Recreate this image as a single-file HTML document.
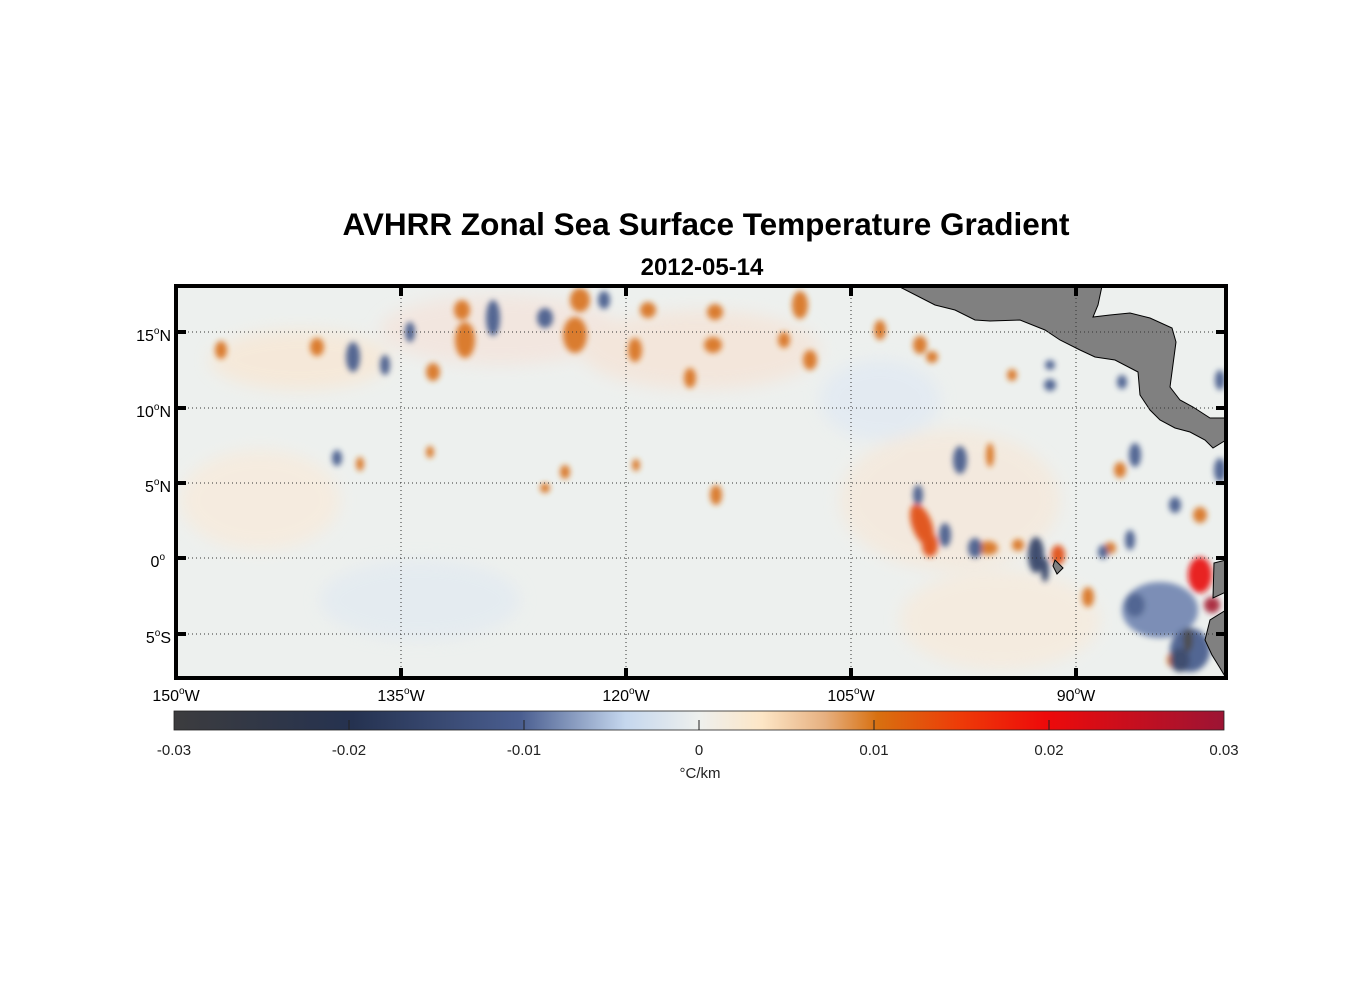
<!DOCTYPE html>
<html><head><meta charset="utf-8"><style>
body{margin:0;background:#fff;width:1356px;height:1000px;overflow:hidden;font-family:"Liberation Sans",Arial,sans-serif}
</style></head><body>
<svg width="1356" height="1000" xmlns="http://www.w3.org/2000/svg" font-family="Liberation Sans, Arial, sans-serif">
<defs>
<filter id="b" x="-50%" y="-50%" width="200%" height="200%"><feGaussianBlur stdDeviation="3"/></filter>
<filter id="b2" x="-50%" y="-50%" width="200%" height="200%"><feGaussianBlur stdDeviation="8"/></filter>
<clipPath id="c"><rect x="176" y="286" width="1050" height="392"/></clipPath>
<linearGradient id="cb" x1="0" x2="1">
<stop offset="0" stop-color="#3c3c3e"/>
<stop offset="0.17" stop-color="#253250"/>
<stop offset="0.33" stop-color="#4a5e90"/>
<stop offset="0.43" stop-color="#c5d7ee"/>
<stop offset="0.5" stop-color="#eef0ee"/>
<stop offset="0.56" stop-color="#fde6c6"/>
<stop offset="0.62" stop-color="#e6b080"/>
<stop offset="0.67" stop-color="#d87010"/>
<stop offset="0.75" stop-color="#ee3a08"/>
<stop offset="0.83" stop-color="#ee0a0a"/>
<stop offset="1" stop-color="#9c1434"/>
</linearGradient>
</defs>
<text x="706" y="235" text-anchor="middle" font-size="31.5" font-weight="bold">AVHRR Zonal Sea Surface Temperature Gradient</text>
<text x="702" y="275" text-anchor="middle" font-size="24" font-weight="bold">2012-05-14</text>
<g clip-path="url(#c)">
<rect x="176" y="286" width="1050" height="392" fill="#edf0ee"/>
<g filter="url(#b2)" opacity="0.6">
<ellipse cx="300" cy="360" rx="90" ry="30" fill="#fbe4cc"/>
<ellipse cx="500" cy="330" rx="120" ry="35" fill="#f6e0d6"/>
<ellipse cx="700" cy="350" rx="120" ry="40" fill="#f7e0d0"/>
<ellipse cx="260" cy="500" rx="80" ry="50" fill="#fbe9d6"/>
<ellipse cx="950" cy="500" rx="110" ry="70" fill="#f8e6d4"/>
<ellipse cx="1000" cy="620" rx="100" ry="50" fill="#f9e8d6"/>
<ellipse cx="420" cy="600" rx="100" ry="40" fill="#dfe8f2"/>
<ellipse cx="880" cy="400" rx="60" ry="40" fill="#dde7f4"/>
</g>
<g filter="url(#b)" opacity="0.9">
<g fill="#d8711a">
<ellipse cx="221" cy="350" rx="6" ry="9"/>
<ellipse cx="317" cy="347" rx="7" ry="9"/>
<ellipse cx="433" cy="372" rx="7" ry="9"/>
<ellipse cx="465" cy="340" rx="10" ry="18"/>
<ellipse cx="462" cy="310" rx="8" ry="10"/>
<ellipse cx="575" cy="335" rx="12" ry="18"/>
<ellipse cx="580" cy="300" rx="10" ry="12"/>
<ellipse cx="635" cy="350" rx="7" ry="12"/>
<ellipse cx="648" cy="310" rx="8" ry="8"/>
<ellipse cx="690" cy="378" rx="6" ry="10"/>
<ellipse cx="713" cy="345" rx="9" ry="8"/>
<ellipse cx="715" cy="312" rx="8" ry="8"/>
<ellipse cx="800" cy="305" rx="8" ry="14"/>
<ellipse cx="810" cy="360" rx="7" ry="10"/>
<ellipse cx="784" cy="340" rx="6" ry="8"/>
<ellipse cx="880" cy="330" rx="6" ry="10"/>
<ellipse cx="920" cy="345" rx="7" ry="9"/>
<ellipse cx="932" cy="357" rx="6" ry="6"/>
<ellipse cx="990" cy="455" rx="4" ry="12"/>
<ellipse cx="988" cy="548" rx="10" ry="7"/>
<ellipse cx="1018" cy="545" rx="6" ry="6"/>
<ellipse cx="1110" cy="548" rx="6" ry="6"/>
<ellipse cx="1200" cy="515" rx="7" ry="8"/>
<ellipse cx="1088" cy="597" rx="6" ry="10"/>
<ellipse cx="1172" cy="660" rx="5" ry="7"/>
<ellipse cx="565" cy="472" rx="5" ry="7"/>
<ellipse cx="545" cy="488" rx="5" ry="5"/>
<ellipse cx="716" cy="495" rx="6" ry="10"/>
<ellipse cx="360" cy="464" rx="4" ry="7"/>
<ellipse cx="430" cy="452" rx="4" ry="6"/>
<ellipse cx="636" cy="465" rx="4" ry="6"/>
<ellipse cx="1012" cy="375" rx="5" ry="6"/>
<ellipse cx="1120" cy="470" rx="6" ry="8"/>
</g>
<g fill="#e04a0a">
<ellipse cx="922" cy="525" rx="10" ry="22" transform="rotate(-20 922 525)"/>
<ellipse cx="930" cy="545" rx="8" ry="12"/>
<ellipse cx="1058" cy="555" rx="7" ry="10"/>
</g>
<g fill="#e81010"><ellipse cx="1200" cy="575" rx="12" ry="18"/></g>
<g fill="#a51a32"><ellipse cx="1212" cy="605" rx="8" ry="8"/></g>
<g fill="#42598a">
<ellipse cx="353" cy="357" rx="7" ry="15"/>
<ellipse cx="385" cy="365" rx="5" ry="10"/>
<ellipse cx="410" cy="332" rx="5" ry="10"/>
<ellipse cx="493" cy="318" rx="7" ry="18"/>
<ellipse cx="545" cy="318" rx="8" ry="10"/>
<ellipse cx="604" cy="300" rx="6" ry="9"/>
<ellipse cx="337" cy="458" rx="5" ry="8"/>
<ellipse cx="960" cy="460" rx="7" ry="14"/>
<ellipse cx="918" cy="495" rx="5" ry="10"/>
<ellipse cx="945" cy="535" rx="6" ry="12"/>
<ellipse cx="975" cy="548" rx="7" ry="10"/>
<ellipse cx="1050" cy="385" rx="6" ry="6"/>
<ellipse cx="1050" cy="365" rx="5" ry="5"/>
<ellipse cx="1122" cy="382" rx="5" ry="7"/>
<ellipse cx="1130" cy="540" rx="5" ry="10"/>
<ellipse cx="1103" cy="552" rx="5" ry="7"/>
<ellipse cx="1175" cy="505" rx="6" ry="8"/>
<ellipse cx="1220" cy="380" rx="5" ry="10"/>
<ellipse cx="1220" cy="470" rx="6" ry="12"/>
<ellipse cx="1135" cy="455" rx="6" ry="12"/>
</g>
<g fill="#6f84b0"><ellipse cx="1160" cy="610" rx="38" ry="28"/></g>
<g fill="#42598a"><ellipse cx="1190" cy="650" rx="20" ry="22"/><ellipse cx="1135" cy="605" rx="10" ry="12"/></g>
<g fill="#2d3d63">
<ellipse cx="1036" cy="555" rx="8" ry="18"/>
<ellipse cx="1045" cy="570" rx="4" ry="12"/>
<ellipse cx="1180" cy="660" rx="10" ry="12"/>
</g>
<g fill="#3c3c40"><ellipse cx="1188" cy="640" rx="5" ry="12"/></g>
</g>
<polygon fill="#808080" stroke="#000" stroke-width="1" points="898,286 1102,286 1098,305 1093,317 1110,315 1130,313 1150,318 1172,328 1176,342 1170,387 1180,400 1193,407 1210,418 1226,418 1226,440 1213,448 1205,440 1190,432 1175,428 1160,420 1150,410 1140,395 1138,372 1115,360 1095,357 1080,350 1060,340 1045,330 1020,320 990,321 975,320 955,310 935,305"/>
<polygon fill="#808080" stroke="#000" stroke-width="1" points="1226,560 1214,563 1213,598 1226,592"/>
<polygon fill="#808080" stroke="#000" stroke-width="1" points="1226,610 1210,620 1205,640 1212,655 1220,668 1226,678"/>
<polygon fill="#808080" stroke="#000" stroke-width="1" points="1055,560 1063,568 1057,574 1053,566"/>
<g stroke="#333" stroke-width="1" stroke-dasharray="1,3">
<line x1="401" y1="286" x2="401" y2="678"/><line x1="626" y1="286" x2="626" y2="678"/>
<line x1="851" y1="286" x2="851" y2="678"/><line x1="1076" y1="286" x2="1076" y2="678"/>
<line x1="176" y1="332" x2="1226" y2="332"/><line x1="176" y1="408" x2="1226" y2="408"/>
<line x1="176" y1="483" x2="1226" y2="483"/><line x1="176" y1="558" x2="1226" y2="558"/>
<line x1="176" y1="634" x2="1226" y2="634"/>
</g>
</g>
<rect x="176" y="286" width="1050" height="392" fill="none" stroke="#000" stroke-width="4"/>
<g stroke="#000" stroke-width="4">
<line x1="401" y1="286" x2="401" y2="296"/><line x1="626" y1="286" x2="626" y2="296"/><line x1="851" y1="286" x2="851" y2="296"/><line x1="1076" y1="286" x2="1076" y2="296"/>
<line x1="401" y1="668" x2="401" y2="678"/><line x1="626" y1="668" x2="626" y2="678"/><line x1="851" y1="668" x2="851" y2="678"/><line x1="1076" y1="668" x2="1076" y2="678"/>
<line x1="176" y1="332" x2="186" y2="332"/><line x1="176" y1="408" x2="186" y2="408"/><line x1="176" y1="483" x2="186" y2="483"/><line x1="176" y1="558" x2="186" y2="558"/><line x1="176" y1="634" x2="186" y2="634"/>
<line x1="1216" y1="332" x2="1226" y2="332"/><line x1="1216" y1="408" x2="1226" y2="408"/><line x1="1216" y1="483" x2="1226" y2="483"/><line x1="1216" y1="558" x2="1226" y2="558"/><line x1="1216" y1="634" x2="1226" y2="634"/>
</g>
<g font-size="16" text-anchor="end">
<text x="171" y="341">15<tspan font-size="10" dy="-7">o</tspan><tspan dy="7">N</tspan></text>
<text x="171" y="417">10<tspan font-size="10" dy="-7">o</tspan><tspan dy="7">N</tspan></text>
<text x="171" y="492">5<tspan font-size="10" dy="-7">o</tspan><tspan dy="7">N</tspan></text>
<text x="165" y="567">0<tspan font-size="10" dy="-7">o</tspan></text>
<text x="171" y="643">5<tspan font-size="10" dy="-7">o</tspan><tspan dy="7">S</tspan></text>
</g>
<g font-size="16" text-anchor="middle">
<text x="176" y="701">150<tspan font-size="10" dy="-7">o</tspan><tspan dy="7">W</tspan></text>
<text x="401" y="701">135<tspan font-size="10" dy="-7">o</tspan><tspan dy="7">W</tspan></text>
<text x="626" y="701">120<tspan font-size="10" dy="-7">o</tspan><tspan dy="7">W</tspan></text>
<text x="851" y="701">105<tspan font-size="10" dy="-7">o</tspan><tspan dy="7">W</tspan></text>
<text x="1076" y="701">90<tspan font-size="10" dy="-7">o</tspan><tspan dy="7">W</tspan></text>
</g>
<rect x="174" y="711" width="1050" height="19" fill="url(#cb)" stroke="#222" stroke-width="0.8"/>
<g stroke="#222" stroke-width="1">
<line x1="349" y1="720" x2="349" y2="730"/><line x1="524" y1="720" x2="524" y2="730"/><line x1="699" y1="720" x2="699" y2="730"/><line x1="874" y1="720" x2="874" y2="730"/><line x1="1049" y1="720" x2="1049" y2="730"/>
</g>
<g font-size="15" text-anchor="middle" fill="#222">
<text x="174" y="755">-0.03</text><text x="349" y="755">-0.02</text><text x="524" y="755">-0.01</text><text x="699" y="755">0</text><text x="874" y="755">0.01</text><text x="1049" y="755">0.02</text><text x="1224" y="755">0.03</text>
<text x="700" y="778">°C/km</text>
</g>
</svg>
</body></html>
